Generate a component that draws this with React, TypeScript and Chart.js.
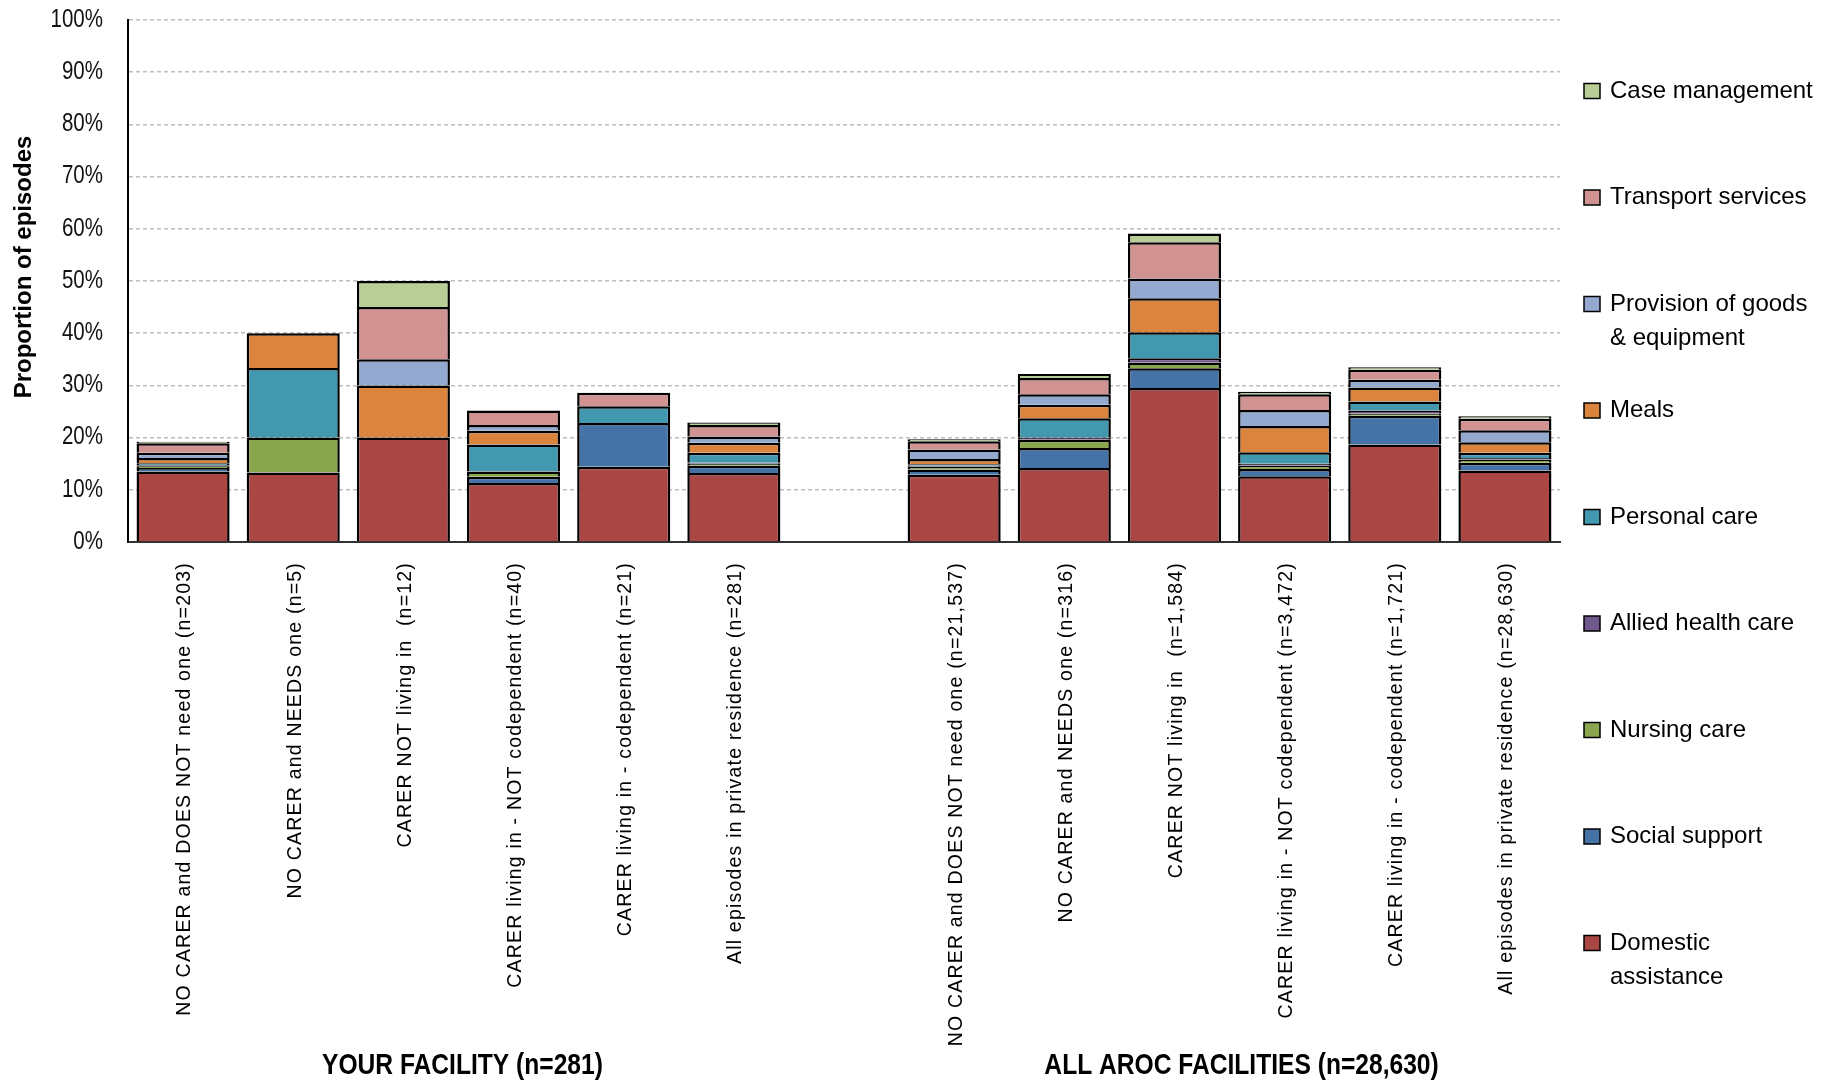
import React, { useEffect, useRef } from 'react';
import { Chart, registerables } from 'chart.js';

Chart.register(...registerables);

// ---------- DATA ----------
const categories: string[] = [
  'NO CARER and DOES NOT need one (n=203)',
  'NO CARER and NEEDS one (n=5)',
  'CARER NOT living in  (n=12)',
  'CARER living in - NOT codependent (n=40)',
  'CARER living in - codependent (n=21)',
  'All episodes in private residence (n=281)',
  '',
  'NO CARER and DOES NOT need one (n=21,537)',
  'NO CARER and NEEDS one (n=316)',
  'CARER NOT living in  (n=1,584)',
  'CARER living in - NOT codependent (n=3,472)',
  'CARER living in - codependent (n=1,721)',
  'All episodes in private residence (n=28,630)',
];

const groupTitles: string[] = ['YOUR FACILITY (n=281)', 'ALL AROC FACILITIES (n=28,630)'];
const groupFirst: number[] = [0, 7];
const groupLast: number[] = [5, 12];

const seriesNames: string[] = [
  'Domestic assistance',
  'Social support',
  'Nursing care',
  'Allied health care',
  'Personal care',
  'Meals',
  'Provision of goods & equipment',
  'Transport services',
  'Case management',
];

// legend lines (multi-line labels as shown)
const legendLines: string[][] = [
  ['Domestic', 'assistance'],
  ['Social support'],
  ['Nursing care'],
  ['Allied health care'],
  ['Personal care'],
  ['Meals'],
  ['Provision of goods', '& equipment'],
  ['Transport services'],
  ['Case management'],
];

const seriesColors: string[] = [
  '#AA4643',
  '#4572A7',
  '#89A54E',
  '#71588F',
  '#4198AF',
  '#DB843D',
  '#93A9CF',
  '#D19392',
  '#B9CD96',
];

const domestic: (number | null)[] = [13.5, 13.33, 20, 11.3, 14.4, 13.2, null, 12.9, 14.2, 29.5, 12.6, 18.7, 13.7];
const social: (number | null)[] = [0.7, 0, 0, 1.2, 8.4, 1.4, null, 1.0, 3.8, 3.8, 1.4, 5.5, 1.5];
const nursing: (number | null)[] = [0.3, 6.67, 0, 1.0, 0, 0.4, null, 0.5, 1.6, 1.1, 0.6, 0.4, 0.6];
const allied: (number | null)[] = [0.2, 0, 0, 0, 0, 0.2, null, 0.2, 0.4, 0.8, 0.4, 0.6, 0.3];
const personal: (number | null)[] = [0.4, 13.33, 0, 5.2, 3.2, 1.9, null, 0.3, 3.7, 5.0, 2.2, 1.7, 1.0];
const meals: (number | null)[] = [1.0, 6.67, 10, 2.6, 0, 1.9, null, 1.0, 2.6, 6.5, 5.0, 2.7, 2.0];
const provision: (number | null)[] = [1.0, 0, 5, 1.1, 0, 1.2, null, 1.8, 2.0, 3.8, 3.1, 1.5, 2.3];
const transport: (number | null)[] = [1.8, 0, 10, 2.8, 2.6, 2.2, null, 1.6, 3.1, 6.9, 3.0, 1.9, 2.2];
const caseMgmt: (number | null)[] = [0.3, 0, 5, 0, 0, 0.5, null, 0.4, 0.8, 1.7, 0.5, 0.5, 0.5];

const seriesValues = [domestic, social, nursing, allied, personal, meals, provision, transport, caseMgmt];

const yMin = 0;
const yMax = 100;
const yStep = 10;
const yTitle = 'Proportion of episodes';

// ---------- STYLE ----------
const SANS = '"Liberation Sans", Arial, Helvetica, sans-serif';
const groupOffsets: number[] = [4, 12];

const textPlugin = {
  id: 'customText',
  afterDraw(chart: any) {
    const { ctx, chartArea, scales } = chart;
    const xs = scales.x;
    const ys = scales.y;
    ctx.save();
    ctx.fillStyle = '#000';

    // y tick labels (narrow look)
    ctx.textAlign = 'right';
    ctx.textBaseline = 'middle';
    ys.ticks.forEach((t: any) => {
      const py = ys.getPixelForValue(t.value);
      ctx.save();
      ctx.translate(chartArea.left - 25, py);
      ctx.scale(0.82, 1);
      ctx.font = `25px ${SANS}`;
      ctx.fillStyle = '#111';
      ctx.fillText(`${t.value}%`, 0, 0);
      ctx.restore();
    });

    // rotated category labels
    ctx.font = `19.5px ${SANS}`;
    (ctx as any).letterSpacing = '1.2px';
    ctx.textAlign = 'right';
    ctx.textBaseline = 'middle';
    categories.forEach((c, i) => {
      if (!c) return;
      const px = xs.getPixelForValue(i);
      ctx.save();
      ctx.translate(px + 2, chartArea.bottom + 20);
      ctx.rotate(-Math.PI / 2);
      ctx.fillText(c, 0, 0);
      ctx.restore();
    });
    (ctx as any).letterSpacing = '0px';

    // group titles
    ctx.textAlign = 'center';
    ctx.textBaseline = 'middle';
    groupTitles.forEach((t, g) => {
      const cx = (xs.getPixelForValue(groupFirst[g]) + xs.getPixelForValue(groupLast[g])) / 2 + groupOffsets[g];
      ctx.save();
      ctx.translate(cx, 1066);
      ctx.scale(0.82, 1);
      ctx.font = `bold 30px ${SANS}`;
      ctx.fillText(t, 0, 0);
      ctx.restore();
    });

    // y axis title
    ctx.save();
    ctx.translate(24, (chartArea.top + chartArea.bottom) / 2 - 14);
    ctx.rotate(-Math.PI / 2);
    ctx.font = `bold 24px ${SANS}`;
    ctx.textAlign = 'center';
    ctx.textBaseline = 'middle';
    ctx.fillText(yTitle, 0, 0);
    ctx.restore();

    // legend (top = last series)
    const lx = chartArea.right + 24;
    const top = chartArea.top + 71;
    const step = 106.5;
    ctx.font = `24px ${SANS}`;
    ctx.textAlign = 'left';
    ctx.textBaseline = 'middle';
    for (let k = 0; k < seriesNames.length; k++) {
      const si = seriesNames.length - 1 - k;
      const cy = top + k * step;
      ctx.fillStyle = seriesColors[si];
      ctx.fillRect(lx, cy - 7.5, 16, 15);
      ctx.strokeStyle = '#000';
      ctx.lineWidth = 1.5;
      ctx.strokeRect(lx, cy - 7.5, 16, 15);
      ctx.fillStyle = '#000';
      legendLines[si].forEach((line, j) => {
        ctx.fillText(line, lx + 26, cy + j * 34);
      });
    }
    ctx.restore();
  },
};

export default function App() {
  const ref = useRef<HTMLCanvasElement | null>(null);

  useEffect(() => {
    if (!ref.current) return;
    const chart = new Chart(ref.current, {
      type: 'bar',
      data: {
        labels: categories,
        datasets: seriesNames.map((name, i) => ({
          label: name,
          data: seriesValues[i] as any,
          backgroundColor: seriesColors[i],
          borderColor: '#000',
          borderWidth: 2.5,
          borderSkipped: 'start',
          barPercentage: 0.845,
          categoryPercentage: 1,
        })),
      },
      options: {
        responsive: false,
        animation: false,
        devicePixelRatio: 1,
        layout: { padding: { left: 0, right: 265, top: 20, bottom: 0 } },
        plugins: {
          legend: { display: false },
          tooltip: { enabled: false },
          title: { display: false },
        },
        scales: {
          x: {
            stacked: true,
            grid: { display: false, drawTicks: false },
            border: { display: true, color: '#333', width: 2 },
            ticks: { display: false },
            afterFit: (s: any) => {
              s.height = 539;
            },
          },
          y: {
            stacked: true,
            min: yMin,
            max: yMax,
            grid: {
              color: '#bdbdbd',
              lineWidth: 1.5,
              drawTicks: false,
            },
            border: { display: true, color: '#000', width: 2, dash: [4, 3] },
            ticks: {
              stepSize: yStep,
              display: false,
            },
            afterFit: (s: any) => {
              s.width = 128;
            },
          },
        },
      },
      plugins: [textPlugin],
    } as any);
    return () => chart.destroy();
  }, []);

  return (
    <div style={{ position: 'absolute', left: 0, top: 0, width: 1825, height: 1081, background: '#fff' }}>
      <canvas ref={ref} width={1825} height={1081} style={{ display: 'block' }} />
    </div>
  );
}
